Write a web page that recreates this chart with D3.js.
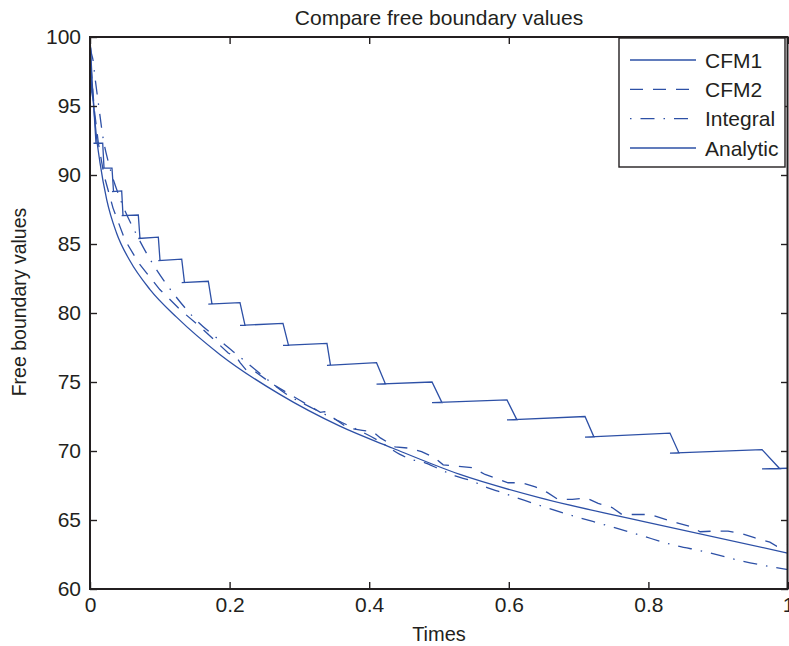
<html>
<head>
  <style>
    body {
      margin: 0;
      background: white;
      font-family: "Liberation Sans", Arial, Helvetica, sans-serif;
    }
    svg text {
      fill: #231f20;
    }
  </style>
</head>
<body>
  <svg id="chart"></svg>
  <script src="https://cdn.jsdelivr.net/npm/d3@7"></script>
  <script>
    // ---- data ----
    var xTicks = [0, 0.2, 0.4, 0.6, 0.8, 1];
    var yTicks = [60, 65, 70, 75, 80, 85, 90, 95, 100];
    var seriesNames = ["CFM1", "CFM2", "Integral", "Analytic"];

    var analyticT = [0, 0.0039, 0.0086, 0.0143, 0.024, 0.038, 0.057, 0.086, 0.124, 0.186, 0.272, 0.358, 0.434, 0.530, 0.645, 0.792, 1.0];
    var analyticV = [100, 96.0, 93.1, 90.9, 88.2, 85.8, 83.8, 81.7, 79.7, 77.0, 74.1, 71.8, 70.2, 68.3, 66.6, 64.9, 62.6];

    var integralT = [0, 0.001, 0.0047, 0.0062, 0.0125, 0.019, 0.027, 0.043, 0.067, 0.0907, 0.119, 0.150, 0.186, 0.215, 0.244, 0.282, 0.315, 0.351, 0.387, 0.415, 0.444, 0.463, 0.477, 0.5, 0.523, 0.546, 0.569, 0.59, 0.615, 0.645, 0.692, 0.741, 0.788, 0.835, 0.881, 0.928, 0.977, 1.0];
    var integralV = [100, 99.2, 98.2, 97.5, 95.0, 92.6, 90.8, 88.3, 85.65, 83.5, 81.45, 79.6, 78.0, 76.8, 75.6, 74.1, 73.2, 72.3, 71.45, 70.7, 69.75, 69.35, 69.2, 68.7, 68.2, 67.85, 67.35, 67.0, 66.55, 66.05, 65.3, 64.6, 63.9, 63.2, 62.7, 62.1, 61.6, 61.4];

    var cfm2T = [0, 0.002, 0.006, 0.012, 0.02, 0.033, 0.05, 0.07, 0.1, 0.13, 0.16, 0.198, 0.21, 0.215, 0.225, 0.235, 0.26, 0.283, 0.30, 0.33, 0.336, 0.370, 0.390, 0.405, 0.416, 0.437, 0.458, 0.475, 0.494, 0.506, 0.527, 0.547, 0.566, 0.583, 0.599, 0.619, 0.638, 0.655, 0.670, 0.691, 0.711, 0.728, 0.748, 0.762, 0.784, 0.802, 0.821, 0.841, 0.862, 0.874, 0.895, 0.914, 0.934, 0.953, 0.974, 0.984, 1.0];
    var cfm2V = [99.6, 97.5, 94.8, 92.3, 90.0, 87.6, 85.3, 83.6, 81.7, 80.2, 78.9, 77.1, 76.8, 76.4, 75.8, 75.8, 74.9, 74.2, 73.7, 72.8, 72.85, 71.65, 71.5, 71.4, 70.95, 70.3, 70.2, 69.95, 69.5, 69.0, 68.9, 68.8, 68.3, 68.0, 67.7, 67.7, 67.4, 67.0, 66.5, 66.5, 66.6, 66.2, 65.9, 65.4, 65.4, 65.4, 65.1, 64.8, 64.5, 64.15, 64.2, 64.2, 64.0, 63.7, 63.4, 63.1, 63.2];

    // CFM1 staircase: start points, then for each step the time the drop starts,
    // the time it ends, the level before the drop and the level after it
    var cfm1StartT = [0, 0.0025];
    var cfm1StartV = [100, 96.0];
    var cfm1DropT = [0.005, 0.0182, 0.0315, 0.0454, 0.0692, 0.0979, 0.1314, 0.1695, 0.2149, 0.2765, 0.3395, 0.4105, 0.49, 0.5974, 0.7092, 0.8309, 0.9628];
    var cfm1DropEndT = [0.0086, 0.0201, 0.0337, 0.0473, 0.0716, 0.1003, 0.1354, 0.1748, 0.2221, 0.2844, 0.3446, 0.4233, 0.5043, 0.6117, 0.7221, 0.8438, 0.9885];
    var cfm1Hi = [95.3, 92.3, 90.5, 88.85, 87.1, 85.5, 83.9, 82.3, 80.75, 79.25, 77.8, 76.4, 75.0, 73.7, 72.5, 71.3, 70.1];
    var cfm1Lo = [92.3, 90.5, 88.8, 87.05, 85.4, 83.8, 82.2, 80.65, 79.1, 77.65, 76.2, 74.85, 73.5, 72.25, 71.0, 69.85, 68.7];
    var cfm1EndV = 68.75;

    // ---- layout ----
    var width = 789, height = 646;
    var pad = { top: 37, left: 90, right: 1, bottom: 57 };
    var blue = "#2d50a6";
    var ink = "#231f20";

    var svg = d3.select("#chart").attr("width", width).attr("height", height);

    var xScale = d3.scaleLinear().domain([0, 1]).range([pad.left, width - pad.right]);
    var yScale = d3.scaleLinear().domain([60, 100]).range([height - pad.bottom, pad.top]);

    svg.append("clipPath").attr("id", "plotClip")
      .append("rect")
      .attr("x", pad.left).attr("y", pad.top)
      .attr("width", width - pad.left - pad.right)
      .attr("height", height - pad.top - pad.bottom);

    function zipPts(ts, vs) {
      return ts.map(function (t, i) { return [t, vs[i]]; });
    }

    // build the CFM1 path points (drop, then back along the new level)
    var cfm1Pts = zipPts(cfm1StartT, cfm1StartV);
    cfm1DropT.forEach(function (t, i) {
      cfm1Pts.push([t, cfm1Hi[i]]);
      cfm1Pts.push([cfm1DropEndT[i], cfm1Lo[i]]);
      cfm1Pts.push([t, cfm1Lo[i]]);
    });
    cfm1Pts.push([1, cfm1EndV]);

    var lineLinear = d3.line()
      .x(function (d) { return xScale(d[0]); })
      .y(function (d) { return yScale(d[1]); });
    var lineSmooth = d3.line()
      .x(function (d) { return xScale(d[0]); })
      .y(function (d) { return yScale(d[1]); })
      .curve(d3.curveMonotoneX);

    var dashes = {
      "CFM1": null,
      "CFM2": "13,10",
      "Integral": "1.5,9,14,9",
      "Analytic": null
    };

    var plot = svg.append("g").attr("clip-path", "url(#plotClip)");

    var series = [
      { name: "Analytic", pts: zipPts(analyticT, analyticV), gen: lineSmooth },
      { name: "Integral", pts: zipPts(integralT, integralV), gen: lineSmooth },
      { name: "CFM2", pts: zipPts(cfm2T, cfm2V), gen: lineLinear },
      { name: "CFM1", pts: cfm1Pts, gen: lineLinear }
    ];

    plot.selectAll("path.series")
      .data(series)
      .enter()
      .append("path")
      .attr("class", "series")
      .attr("d", function (d) { return d.gen(d.pts); })
      .attr("fill", "none")
      .attr("stroke", blue)
      .attr("stroke-width", 1.3)
      .attr("stroke-dasharray", function (d) { return dashes[d.name]; });

    // ---- axes (MATLAB style box with inward ticks) ----
    var fontSize = "21px";

    var xAxis = d3.axisBottom(xScale).tickValues(xTicks).tickFormat(d3.format("~g"))
      .tickSizeInner(-7).tickSizeOuter(0).tickPadding(8);
    var yAxis = d3.axisLeft(yScale).tickValues(yTicks)
      .tickSizeInner(-7).tickSizeOuter(0).tickPadding(9);
    var xTop = d3.axisTop(xScale).tickValues(xTicks).tickFormat("")
      .tickSizeInner(-7).tickSizeOuter(0);
    var yRight = d3.axisRight(yScale).tickValues(yTicks).tickFormat("")
      .tickSizeInner(-7).tickSizeOuter(0);

    function styleAxis(g) {
      g.select(".domain").remove();
      g.selectAll("line").attr("stroke", ink).attr("stroke-width", 1.4);
      g.selectAll("text").attr("font-size", fontSize).attr("fill", ink)
        .attr("font-family", "Liberation Sans, Arial, Helvetica, sans-serif");
    }

    svg.append("g").attr("transform", "translate(0," + (height - pad.bottom) + ")").call(xAxis).call(styleAxis);
    svg.append("g").attr("transform", "translate(" + pad.left + ",0)").call(yAxis).call(styleAxis);
    svg.append("g").attr("transform", "translate(0," + pad.top + ")").call(xTop).call(styleAxis);
    svg.append("g").attr("transform", "translate(" + (width - pad.right) + ",0)").call(yRight).call(styleAxis);

    svg.append("rect")
      .attr("x", pad.left).attr("y", pad.top)
      .attr("width", width - pad.left - pad.right - 0.5)
      .attr("height", height - pad.top - pad.bottom)
      .attr("fill", "none")
      .attr("stroke", ink)
      .attr("stroke-width", 2);

    // ---- titles ----
    svg.append("text")
      .text("Compare free boundary values")
      .attr("x", (pad.left + width - pad.right) / 2)
      .attr("y", 25)
      .attr("text-anchor", "middle")
      .attr("font-size", fontSize);

    svg.append("text")
      .text("Times")
      .attr("x", (pad.left + width - pad.right) / 2)
      .attr("y", 641)
      .attr("text-anchor", "middle")
      .attr("font-size", "20px");

    svg.append("text")
      .text("Free boundary values")
      .attr("transform", "translate(26,302) rotate(-90)")
      .attr("text-anchor", "middle")
      .attr("font-size", "19.5px");

    // ---- legend ----
    var legend = svg.append("g").attr("transform", "translate(619,38)");
    legend.append("rect")
      .attr("width", 166).attr("height", 129)
      .attr("fill", "white")
      .attr("stroke", ink)
      .attr("stroke-width", 1.4);

    var rowY = d3.scalePoint().domain(seriesNames).range([22, 110]);
    var rows = legend.selectAll("g.row")
      .data(seriesNames)
      .enter()
      .append("g")
      .attr("class", "row")
      .attr("transform", function (d) { return "translate(0," + rowY(d) + ")"; });
    rows.append("line")
      .attr("x1", 11).attr("x2", 77)
      .attr("stroke", blue)
      .attr("stroke-width", 1.3)
      .attr("stroke-dasharray", function (d) { return dashes[d]; });
    rows.append("text")
      .text(function (d) { return d; })
      .attr("x", 86)
      .attr("dy", "0.36em")
      .attr("font-size", fontSize);
  </script>
</body>
</html>
